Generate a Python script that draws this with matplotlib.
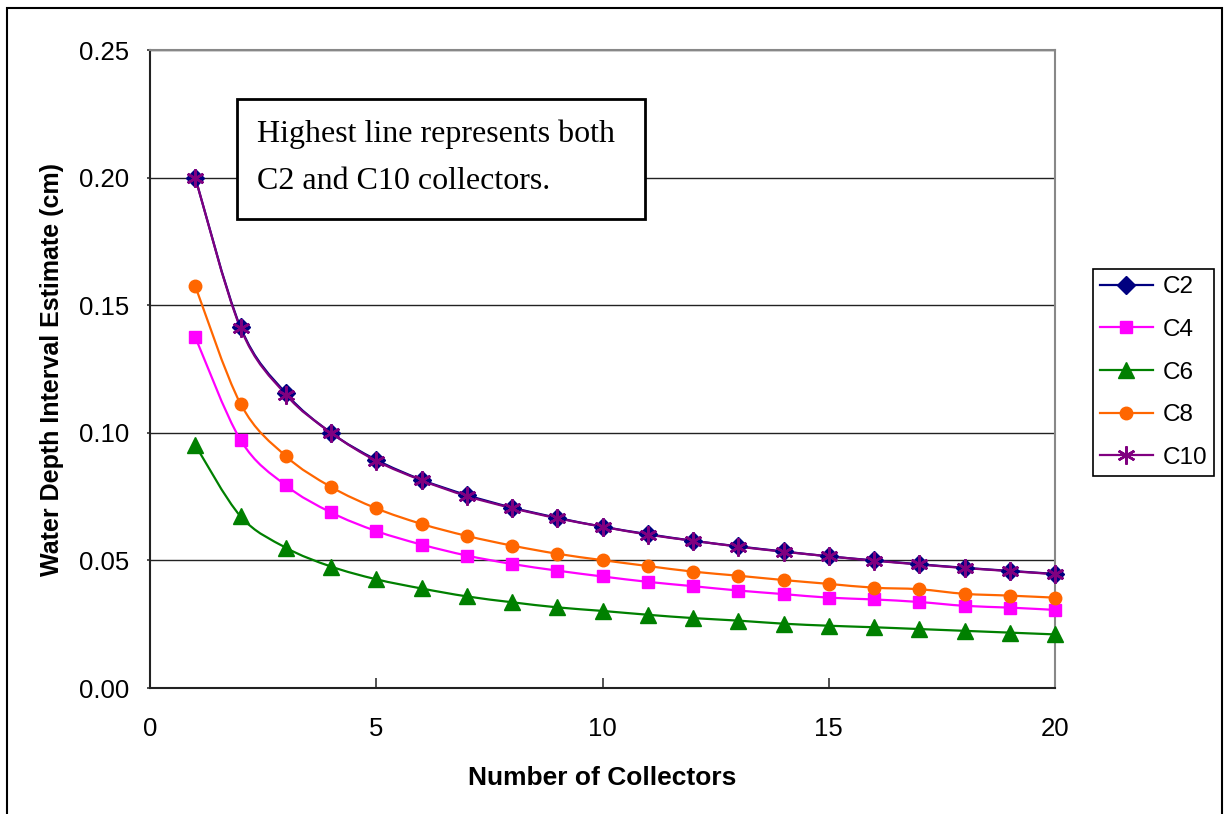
"""Water depth interval estimate versus number of collectors."""

import matplotlib
matplotlib.use("Agg")
import matplotlib.pyplot as plt
from matplotlib.lines import Line2D
from matplotlib.patches import PathPatch, Rectangle
from matplotlib.path import Path

# Number of collectors on the x axis
collectors = list(range(1, 21))

# Interval estimates (cm) for each collector type
c2 = [0.2000, 0.1414, 0.1155, 0.1000, 0.0894, 0.0816, 0.0756, 0.0707, 0.0667, 0.0632,
      0.0603, 0.0577, 0.0555, 0.0535, 0.0516, 0.0500, 0.0485, 0.0471, 0.0459, 0.0447]
c4 = [0.1375, 0.0972, 0.0794, 0.0688, 0.0615, 0.0562, 0.0519, 0.0486, 0.0460, 0.0437,
      0.0416, 0.0399, 0.0382, 0.0368, 0.0354, 0.0347, 0.0337, 0.0322, 0.0315, 0.0306]
c6 = [0.0952, 0.0673, 0.0550, 0.0476, 0.0426, 0.0390, 0.0359, 0.0336, 0.0316, 0.0302,
      0.0287, 0.0274, 0.0264, 0.0252, 0.0244, 0.0238, 0.0231, 0.0224, 0.0217, 0.0210]
c8 = [0.1575, 0.1114, 0.0909, 0.0788, 0.0704, 0.0643, 0.0596, 0.0558, 0.0526, 0.0501,
      0.0478, 0.0456, 0.0440, 0.0423, 0.0408, 0.0393, 0.0387, 0.0369, 0.0362, 0.0354]
c10 = [0.2000, 0.1410, 0.1150, 0.1000, 0.0890, 0.0814, 0.0752, 0.0705, 0.0665, 0.0632,
       0.0601, 0.0577, 0.0554, 0.0534, 0.0516, 0.0499, 0.0484, 0.0470, 0.0458, 0.0446]

series = [
    ("C2", c2, "#000080", "D", 9),
    ("C4", c4, "#FF00FF", "s", 9),
    ("C6", c6, "#008000", "^", 11),
    ("C8", c8, "#FF6600", "o", 9),
    ("C10", c10, "#800080", (6, 2, 0), 13),
]

x_ticks = [0, 5, 10, 15, 20]
y_ticks = [0.00, 0.05, 0.10, 0.15, 0.20, 0.25]


def smooth_path(xs, ys):
    """Bezier path through the points, like a spreadsheet's smoothed line."""
    pts = list(zip(xs, ys))
    verts = [pts[0]]
    codes = [Path.MOVETO]
    for i in range(len(pts) - 1):
        p0 = pts[max(i - 1, 0)]
        p1 = pts[i]
        p2 = pts[i + 1]
        p3 = pts[min(i + 2, len(pts) - 1)]
        c1 = (p1[0] + (p2[0] - p0[0]) / 6, p1[1] + (p2[1] - p0[1]) / 6)
        c2_ = (p2[0] - (p3[0] - p1[0]) / 6, p2[1] - (p3[1] - p1[1]) / 6)
        verts += [c1, c2_, p2]
        codes += [Path.CURVE4] * 3
    return Path(verts, codes)


fig = plt.figure(figsize=(12.3, 8.14), dpi=100)
ax = fig.add_axes([150 / 1230, 1 - 688 / 814, 905 / 1230, 638 / 814])

handles = []
for name, values, color, marker, size in series:
    mew = 1.8 if name == "C10" else 1
    ax.add_patch(PathPatch(smooth_path(collectors, values), facecolor="none",
                           edgecolor=color, linewidth=1.6, zorder=3))
    ax.plot(collectors, values, linestyle="none", marker=marker, markersize=size,
            color=color, markeredgecolor=color, markeredgewidth=mew,
            clip_on=False, zorder=4)
    handles.append(Line2D([], [], color=color, marker=marker, markersize=size,
                          markeredgecolor=color, markeredgewidth=mew,
                          linewidth=1.6, label=name))

ax.set_xlim(0, 20)
ax.set_ylim(0, 0.25)
ax.set_xticks(x_ticks)
ax.set_yticks(y_ticks)
ax.set_yticklabels([f"{v:.2f}" for v in y_ticks])
ax.yaxis.grid(True, color="#222222", linewidth=1.0)
ax.set_axisbelow(True)

for side in ("left", "bottom"):
    ax.spines[side].set_color("#222222")
    ax.spines[side].set_linewidth(1.5)
for side in ("top", "right"):
    ax.spines[side].set_color("#888888")
    ax.spines[side].set_linewidth(1.5)

ax.tick_params(axis="y", direction="out", length=2, width=1.2, color="#333333",
               labelsize=18.5, pad=13)
ax.tick_params(axis="x", direction="in", length=7, width=1.2, color="#333333",
               labelsize=18.5, pad=21)
for lbl in ax.get_xticklabels() + ax.get_yticklabels():
    lbl.set_fontfamily("Liberation Sans")

ax.set_xlabel("Number of Collectors", fontsize=19, fontweight="bold",
              family="Liberation Sans", labelpad=18)
ax.set_ylabel("Water Depth Interval Estimate (cm)", fontsize=18, fontweight="bold",
              family="Liberation Sans", labelpad=11)

# Note box in the upper left of the plot
fig.patches.append(Rectangle((237 / 1230, 1 - 219 / 814), 408 / 1230, 120 / 814,
                             transform=fig.transFigure, facecolor="white",
                             edgecolor="black", linewidth=2, zorder=5))
fig.text(257 / 1230, 1 - 142 / 814, "Highest line represents both",
         family="Liberation Serif", fontsize=23, va="baseline", zorder=6)
fig.text(257 / 1230, 1 - 189 / 814, "C2 and C10 collectors.",
         family="Liberation Serif", fontsize=23, va="baseline", zorder=6)

leg = fig.legend(handles=handles, loc="upper left",
                 bbox_to_anchor=(1093 / 1230, 1 - 269 / 814),
                 prop={"family": "Liberation Sans", "size": 17.5}, fancybox=False,
                 edgecolor="black", framealpha=1, handlelength=2.15, labelspacing=0.85,
                 borderpad=0.3, handletextpad=0.4, borderaxespad=0)
leg.get_frame().set_linewidth(1.2)

# Outer chart frame
fig.patches.append(Rectangle((7 / 1230, -0.01), 1215 / 1230, 1 - 8 / 814 + 0.01,
                             transform=fig.transFigure, facecolor="none",
                             edgecolor="black", linewidth=1.5))

fig.savefig("out.png", dpi=100)
